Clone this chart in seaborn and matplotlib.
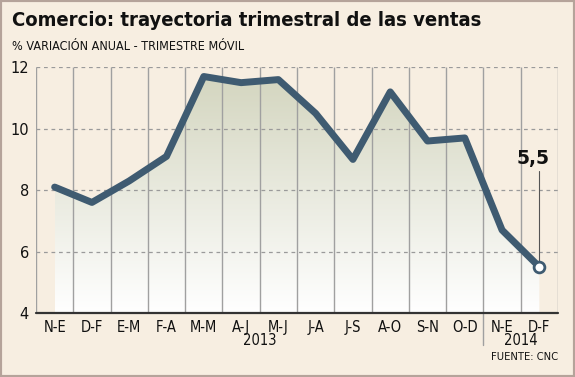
import numpy as np
import pandas as pd
import matplotlib
matplotlib.use("Agg")
import matplotlib.pyplot as plt
import seaborn as sns
from matplotlib.patches import Polygon, Rectangle
from matplotlib.colors import LinearSegmentedColormap

# ---- data ----
periods = ["N-E", "D-F", "E-M", "F-A", "M-M", "A-J", "M-J", "J-A", "J-S", "A-O", "S-N", "O-D", "N-E", "D-F"]
values = [8.1, 7.6, 8.3, 9.1, 11.7, 11.5, 11.6, 10.5, 9.0, 11.2, 9.6, 9.7, 6.7, 5.5]
years = ["2013", "2014"]
yticks = [4, 6, 8, 10, 12]
title = "Comercio: trayectoria trimestral de las ventas"
subtitle = "% VARIACIÓN ANUAL - TRIMESTRE MÓVIL"
source = "FUENTE: CNC"
last_label = "5,5"

sns.set_theme(style="white")
plt.rcParams["font.family"] = ["DejaVu Sans"]

BG = "#f7eee1"
LINE = "#3f5b71"
W, H = 575, 377

fig = plt.figure(figsize=(W / 100, H / 100), dpi=100, facecolor=BG)
ax = fig.add_axes([36 / W, 64 / H, 522 / W, 245.7 / H])
ax.set_facecolor("none")

df = pd.DataFrame({"pos": np.arange(len(periods)), "value": values, "period": periods})

# gradient area under the line
x = df["pos"].to_numpy()
grad = np.linspace(0, 1, 256).reshape(-1, 1)
cmap = LinearSegmentedColormap.from_list("g", ["#ffffff", "#d2d4bd"])
im = ax.imshow(grad, extent=[x[0], x[-1], 4, 12], origin="lower", aspect="auto",
               cmap=cmap, zorder=1, interpolation="bilinear")
poly = Polygon(list(zip(x, values)) + [(x[-1], 4), (x[0], 4)], closed=True,
               facecolor="none", edgecolor="none", transform=ax.transData)
ax.add_patch(poly)
im.set_clip_path(poly)
ax.set_xlim(-0.5, len(periods) - 0.5)
ax.set_ylim(4, 12)

# grid
for yv in yticks[1:]:
    ax.axhline(yv, color="#9a9a9a", lw=0.9, ls=(0, (3, 3)), zorder=2)
ax.vlines(np.arange(-0.5, len(periods)), 4, 12, color="#a0a0a0", lw=1, zorder=2)
# year separator
ax.plot([11.5, 11.5], [4, 2.97], color="#a0a0a0", lw=1, clip_on=False, zorder=2)
# bottom axis line
ax.plot([-0.5, len(periods) - 0.5], [4, 4], color="#333333", lw=1.6, clip_on=False, zorder=3)

# line
sns.lineplot(data=df, x="pos", y="value", color=LINE, lw=5, ax=ax, zorder=5)
ax.scatter([x[-1]], [values[-1]], s=60, facecolor="white", edgecolor=LINE, linewidth=2, zorder=6)

# annotation
ax.plot([x[-1], x[-1]], [8.62, values[-1] + 0.15], color="#555555", lw=0.8, zorder=4)
ax.text(x[-1] - 0.18, 9.04, last_label, fontsize=13.5, fontweight="bold", ha="center",
        va="center", color="#111111")

# ticks
ax.set_xticks(x)
ax.set_xticklabels(periods, fontsize=10.5, color="#111111", fontstretch="condensed")
ax.set_yticks(yticks)
ax.set_yticklabels([str(v) for v in yticks], fontsize=10.5, color="#111111")
ax.tick_params(axis="both", length=0)
ax.tick_params(axis="x", pad=5)
ax.tick_params(axis="y", pad=5)
ax.set_xlabel("")
ax.set_ylabel("")
for s in ax.spines.values():
    s.set_visible(False)

ax.text(5.5, 3.12, years[0], fontsize=10.5, ha="center", va="center", color="#111111",
        fontstretch="condensed")
ax.text(12.5, 3.12, years[1], fontsize=10.5, ha="center", va="center", color="#111111",
        fontstretch="condensed")

# titles
t = fig.text(12 / W, 1 - 21 / H, title, fontsize=16, fontweight="bold", ha="left", va="center",
             color="#111111", fontstretch="condensed")
renderer = fig.canvas.get_renderer()
wpx = t.get_window_extent(renderer).width
t.set_fontsize(16 * 473 / wpx)
fig.text(12 / W, 1 - 46 / H, subtitle, fontsize=9, ha="left", va="center", color="#111111",
         fontstretch="condensed")
fig.text(558 / W, 20 / H, source, fontsize=8, ha="right", va="center", color="#111111",
         fontstretch="condensed")

fig.patches.append(Rectangle((0, 0), 1, 1, transform=fig.transFigure, fill=False,
                             edgecolor="#b5a39a", lw=3))

fig.savefig("out.png", dpi=100, facecolor=BG)
